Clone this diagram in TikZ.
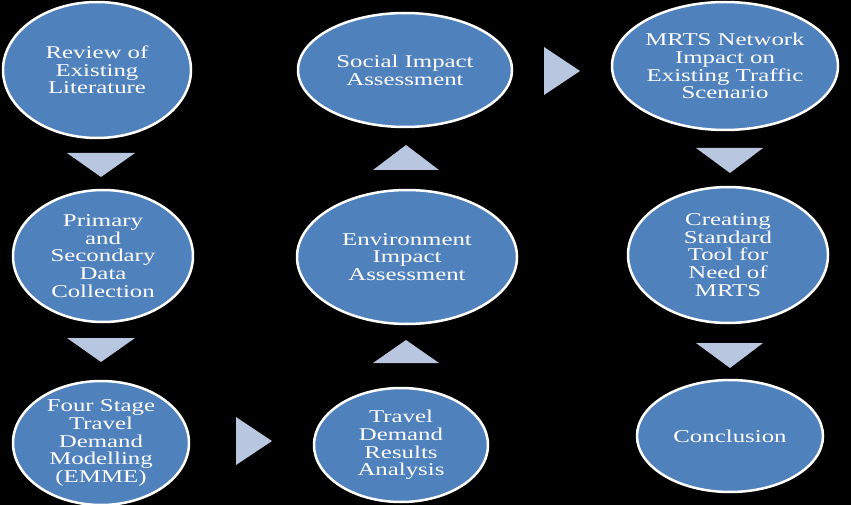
\documentclass[tikz,border=0pt]{standalone}
\usepackage{fontspec}
\setmainfont{Liberation Serif}[FakeStretch=1.38]
\usetikzlibrary{shapes.geometric}
\definecolor{ellblue}{HTML}{4F81BD}
\definecolor{triblue}{HTML}{B8C6E0}
\begin{document}
\begin{tikzpicture}[x=1pt,y=-1pt,
  stage/.style={ellipse, draw=white, line width=2.5pt, fill=ellblue, text=white,
    align=center, inner sep=0pt, font=\fontsize{18}{17.7}\selectfont},
  tri/.style={fill=triblue}]
\fill[black] (0,0) rectangle (851,505);
\useasboundingbox (0,0) rectangle (851,505);
\node[stage, minimum width=188pt, minimum height=136pt] (n1) at (97,70) {Review of\\Existing\\Literature};
\node[stage, minimum width=180pt, minimum height=132pt] (n2) at (103,256) {Primary\\and\\Secondary\\Data\\Collection};
\node[stage, minimum width=176pt, minimum height=124pt] (n3) at (101,443) {Four Stage\\Travel\\Demand\\Modelling\\(EMME)};
\node[stage, minimum width=174pt, minimum height=114pt] (n4) at (401,445) {Travel\\Demand\\Results\\Analysis};
\node[stage, minimum width=220pt, minimum height=134pt] (n5) at (407,257) {Environment\\Impact\\Assessment};
\node[stage, minimum width=214pt, minimum height=114pt] (n6) at (405,70) {Social Impact\\Assessment};
\node[stage, minimum width=226pt, minimum height=128pt] (n7) at (725,66) {MRTS Network\\Impact on\\Existing Traffic\\Scenario};
\node[stage, minimum width=200pt, minimum height=136pt] (n8) at (728,255) {Creating\\Standard\\Tool for\\Need of\\MRTS};
\node[stage, minimum width=186pt, minimum height=112pt] (n9) at (730,436) {Conclusion};
% arrow triangles
\fill[tri] (67,153) -- (135,153) -- (101,177) -- cycle;
\fill[tri] (67,338) -- (135,338) -- (101,362) -- cycle;
\fill[tri] (236,417) -- (236,465) -- (272,441) -- cycle;
\fill[tri] (373,363) -- (439,363) -- (406,340) -- cycle;
\fill[tri] (373,170) -- (439,170) -- (406,145) -- cycle;
\fill[tri] (544,47) -- (544,95) -- (580,71) -- cycle;
\fill[tri] (696,148) -- (763,148) -- (730,173) -- cycle;
\fill[tri] (696,343) -- (763,343) -- (730,368) -- cycle;
\end{tikzpicture}
\end{document}
